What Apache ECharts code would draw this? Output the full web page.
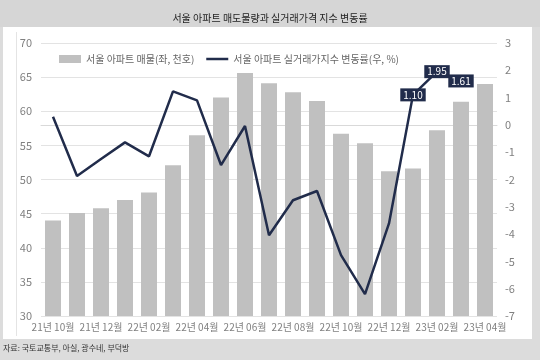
<!DOCTYPE html>
<html>
<head>
<meta charset="utf-8">
<script src="https://cdn.jsdelivr.net/npm/echarts@6/dist/echarts.min.js"></script>
<style>
html,body{margin:0;padding:0;background:#dcdcdc;}
#c{width:540px;height:360px;}
</style>
</head>
<body>
<div id="c"></div>
<script>
var categories = ['21년 10월','21년 11월','21년 12월','22년 01월','22년 02월','22년 03월','22년 04월','22년 05월','22년 06월','22년 07월','22년 08월','22년 09월','22년 10월','22년 11월','22년 12월','23년 01월','23년 02월','23년 03월','23년 04월'];
var listings = [44.0, 45.1, 45.8, 47.0, 48.1, 52.1, 56.5, 62.0, 65.6, 64.1, 62.8, 61.5, 56.7, 55.3, 51.2, 51.6, 57.2, 61.4, 64.0];
var priceChange = [0.3, -1.87, -1.25, -0.64, -1.15, 1.23, 0.9, -1.47, -0.04, -4.04, -2.76, -2.42, -4.77, -6.2, -3.61, 1.10, 1.95, 1.61, null];
var labeledIdx = [15, 16, 17];
var leftTicks = {min: 30, max: 70, interval: 5};
var rightTicks = {min: -7, max: 3, interval: 1};
var barName = '서울 아파트 매물(좌, 천호)';
var lineName = '서울 아파트 실거래가지수 변동률(우, %)';
var titleText = '서울 아파트 매도물량과 실거래가격 지수 변동률';
var sourceText = '자료: 국토교통부, 아실, 광수네, 부덕방';

var FONT = '"Noto Sans CJK KR","Noto Sans",sans-serif';
var NAVY = '#212c4b';

var lineData = priceChange.map(function (v, i) {
  if (labeledIdx.indexOf(i) >= 0) {
    return {value: v, label: {show: true}};
  }
  return v;
});

var chart = echarts.init(document.getElementById('c'));
chart.setOption({
  animation: false,
  backgroundColor: '#dcdcdc',
  textStyle: {fontFamily: FONT},
  graphic: [
    {type: 'rect', silent: true, z: -10, shape: {x: 0, y: 0, width: 540, height: 27}, style: {fill: '#d6d6d6'}},
    {type: 'rect', silent: true, z: -10, shape: {x: 3, y: 27, width: 529, height: 312}, style: {fill: '#ffffff'}},
    {type: 'line', silent: true, z: -9, shape: {x1: 16.5, y1: 32, x2: 16.5, y2: 336}, style: {stroke: '#e4e4e4', lineWidth: 1}},
    {type: 'text', left: 3, top: 344, style: {text: sourceText, fill: '#333333', font: '8px ' + FONT}}
  ],
  title: {
    text: titleText,
    left: 'center',
    top: 8,
    textStyle: {fontFamily: FONT, fontSize: 10, fontWeight: 'normal', color: '#222222'}
  },
  legend: {
    left: 54,
    top: 49,
    itemWidth: 22,
    itemHeight: 8,
    itemGap: 12,
    symbolKeepAspect: true,
    textStyle: {fontFamily: FONT, fontSize: 10, color: '#666666'},
    data: [
      {name: barName, icon: 'rect'},
      {name: lineName, icon: 'path://M0,0L22,0L22,2.5L0,2.5Z'}
    ]
  },
  grid: {left: 41, right: 43, top: 43, bottom: 44, containLabel: false},
  xAxis: {
    type: 'category',
    data: categories,
    axisLine: {lineStyle: {color: '#d9d9d9'}},
    axisTick: {show: false},
    axisLabel: {interval: 1, color: '#808080', fontSize: 10, margin: 6, fontFamily: FONT}
  },
  yAxis: [
    {
      type: 'value', min: leftTicks.min, max: leftTicks.max, interval: leftTicks.interval,
      axisLine: {show: false}, axisTick: {show: false},
      axisLabel: {color: '#808080', fontSize: 11, margin: 9, fontFamily: FONT},
      splitLine: {lineStyle: {color: '#e3e3e3'}}
    },
    {
      type: 'value', min: rightTicks.min, max: rightTicks.max, interval: rightTicks.interval,
      axisLine: {show: false}, axisTick: {show: false},
      axisLabel: {color: '#808080', fontSize: 11, margin: 8, fontFamily: FONT},
      splitLine: {show: false}
    }
  ],
  series: [
    {
      name: barName,
      type: 'bar',
      data: listings,
      barWidth: 16,
      itemStyle: {color: '#c0c0c0'}
    },
    {
      name: lineName,
      type: 'line',
      yAxisIndex: 1,
      data: lineData,
      symbol: 'circle',
      symbolSize: 0.1,
      showSymbol: true,
      connectNulls: false,
      lineStyle: {color: NAVY, width: 2.5},
      itemStyle: {color: NAVY},
      label: {
        show: false,
        position: 'inside',
        formatter: function (p) { return Number(p.value).toFixed(2); },
        backgroundColor: NAVY,
        color: '#ffffff',
        fontSize: 10,
        fontFamily: FONT,
        padding: [2, 3, 1, 3]
      },
      z: 3
    }
  ]
});
</script>
</body>
</html>
